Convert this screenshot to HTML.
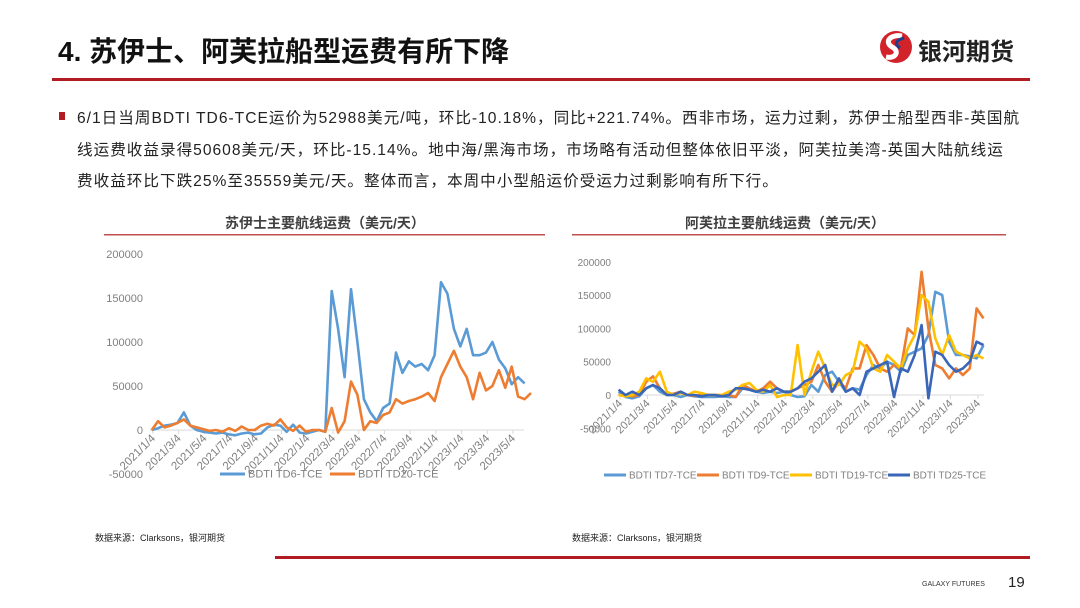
<!DOCTYPE html>
<html><head><meta charset="utf-8">
<style>
body{margin:0;background:#fff;}
#page{position:relative;width:1080px;height:608px;overflow:hidden;background:#fff;font-family:"Liberation Sans","Noto Sans CJK SC",sans-serif;}
.abs{position:absolute;}
</style></head>
<body>
<div id="page">
 <div class="abs" style="left:58px;top:30px;font-size:28px;font-weight:bold;color:#111;letter-spacing:0px;">4. 苏伊士、阿芙拉船型运费有所下降</div>
 <div class="abs" style="left:52px;top:78px;width:978px;height:3px;background:#b01c22;"></div>
 <div class="abs" style="left:876px;top:28px;width:150px;height:38px;">
  <svg width="40" height="38" style="position:absolute;left:0;top:0"><circle cx="20" cy="19" r="16" fill="#d2222a"/><path d="M26 8 C14 6 8 14 16 19 C24 23 20 31 10 29" stroke="#fff" stroke-width="5" fill="none"/><path d="M28 10 C20 12 18 16 24 20" stroke="#1e3f8f" stroke-width="3" fill="none"/></svg>
  <div style="position:absolute;left:42px;top:4px;font-size:24px;font-weight:bold;color:#222;">银河期货</div>
 </div>
 <div class="abs" style="left:59px;top:112px;width:6px;height:8px;background:#b01c22;"></div>
 <div class="abs" style="left:77px;top:103px;width:990px;font-size:15.6px;letter-spacing:1px;line-height:31.5px;color:#222;white-space:nowrap;">6/1日当周BDTI TD6-TCE运价为52988美元/吨，环比-10.18%，同比+221.74%。西非市场，运力过剩，苏伊士船型西非-英国航<br>线运费收益录得50608美元/天，环比-15.14%。地中海/黑海市场，市场略有活动但整体依旧平淡，阿芙拉美湾-英国大陆航线运<br>费收益环比下跌25%至35559美元/天。整体而言，本周中小型船运价受运力过剩影响有所下行。</div>

 <svg id="chart" class="abs" style="left:0;top:0" width="1080" height="608">
  <text x="325" y="228" text-anchor="middle" font-size="14" font-weight="bold" fill="#404040">苏伊士主要航线运费（美元/天）</text>
  <rect x="104" y="234" width="441" height="1.5" fill="#c0504d"/>
  <text x="785" y="228" text-anchor="middle" font-size="14" font-weight="bold" fill="#404040">阿芙拉主要航线运费（美元/天）</text>
  <rect x="572" y="234" width="434" height="1.5" fill="#c0504d"/>
  <g id="left"></g><g id="right"></g>
  <text x="95" y="541" font-size="9" fill="#222">数据来源：Clarksons，银河期货</text>
  <text x="572" y="541" font-size="9" fill="#222">数据来源：Clarksons，银河期货</text>
  <rect x="275" y="556" width="755" height="3" fill="#b01c22"/>
  <text x="922" y="586" font-size="7" fill="#333">GALAXY FUTURES</text>
  <text x="1008" y="587" font-size="15" fill="#222">19</text>
 </svg>
</div>
<script>
// half-monthly observations starting 2021/1/1
const yTicks=[200000,150000,100000,50000,0,-50000];
const leftXLabels=["2021/1/4","2021/3/4","2021/5/4","2021/7/4","2021/9/4","2021/11/4","2022/1/4","2022/3/4","2022/5/4","2022/7/4","2022/9/4","2022/11/4","2023/1/4","2023/3/4","2023/5/4"];
const rightXLabels=["2021/1/4","2021/3/4","2021/5/4","2021/7/4","2021/9/4","2021/11/4","2022/1/4","2022/3/4","2022/5/4","2022/7/4","2022/9/4","2022/11/4","2023/1/4","2023/3/4"];
const td6=[0,2000,5000,6000,8000,20000,5000,0,-2000,-3000,-4000,-3000,-5000,-6000,-4000,-3000,-5000,-4000,3000,6000,5000,-2000,6000,-3000,-4000,-2000,0,-2000,158000,115000,60000,160000,100000,35000,20000,10000,25000,30000,88000,65000,78000,72000,75000,68000,85000,168000,155000,115000,95000,115000,85000,85000,88000,100000,80000,70000,52000,60000,53000];
const td20=[0,10000,3000,5000,8000,12000,5000,3000,1000,-1000,0,-2000,2000,-1000,4000,0,0,5000,7000,5000,12000,3000,-1000,5000,-2000,0,0,-2000,25000,-3000,10000,55000,40000,0,10000,8000,17000,20000,35000,30000,33000,35000,38000,42000,33000,60000,75000,90000,72000,60000,35000,65000,45000,50000,68000,48000,72000,38000,35000,42000];
const td7=[5000,-3000,-5000,-2000,10000,15000,5000,0,0,-3000,0,-2000,-3000,-3000,-3000,-2000,-3000,-3000,10000,8000,5000,3000,5000,3000,5000,0,-3000,-2000,15000,5000,30000,35000,20000,5000,10000,8000,30000,45000,40000,50000,45000,35000,60000,65000,70000,90000,155000,150000,80000,60000,60000,58000,55000,75000];
const td9=[0,0,-2000,0,20000,28000,10000,0,2000,5000,0,-1000,0,0,0,0,0,-3000,15000,10000,5000,10000,20000,10000,5000,5000,10000,15000,20000,45000,20000,5000,20000,10000,40000,40000,75000,60000,40000,35000,45000,40000,100000,90000,185000,100000,45000,40000,25000,40000,30000,40000,130000,115000];
const td19=[0,-2000,0,5000,25000,20000,35000,5000,0,3000,0,5000,3000,0,0,0,5000,8000,15000,18000,8000,5000,15000,-3000,0,0,75000,0,35000,65000,40000,15000,15000,30000,35000,80000,70000,40000,35000,60000,50000,40000,70000,90000,150000,140000,85000,60000,90000,65000,60000,55000,60000,55000];
const td25=[8000,0,5000,0,10000,15000,10000,0,0,5000,0,0,-2000,0,0,-2000,0,10000,10000,8000,5000,8000,5000,10000,5000,5000,10000,20000,25000,35000,45000,5000,25000,5000,10000,0,35000,40000,45000,50000,-3000,40000,35000,60000,105000,-5000,65000,60000,45000,35000,40000,50000,80000,75000];

const NS="http://www.w3.org/2000/svg";
function mk(tag,attrs,parent){const e=document.createElementNS(NS,tag);for(const k in attrs)e.setAttribute(k,attrs[k]);parent.appendChild(e);return e;}

function drawChart(g,cfg){
  const xs=t=>cfg.x0+(t-0.1)*cfg.pxm;
  const ys=v=>cfg.yZero-v*cfg.ppu;
  yTicks.forEach(v=>{
    const t=mk('text',{x:cfg.labX,y:ys(v)+4,'text-anchor':'end','font-size':cfg.fs,fill:'#7f7f7f'},g);
    
    
    t.textContent=v;
  });
  const ax=mk('line',{x1:cfg.x0-3,x2:cfg.xEnd,y1:cfg.yZero,y2:cfg.yZero,stroke:'#d9d9d9','stroke-width':1},g);
  
  
  cfg.xLabels.forEach((lab,i)=>{
    const x=xs(2*i+0.1);
    const tk=mk('line',{x1:x,x2:x,y1:cfg.yZero,y2:cfg.yZero+4,stroke:'#d9d9d9'},g);
    
    
    const t=mk('text',{x:x+3,y:cfg.yZero+9,'text-anchor':'end','font-size':cfg.xfs,fill:'#7f7f7f',transform:`rotate(-45 ${x+3} ${cfg.yZero+9})`},g);
    
    
    t.textContent=lab;
  });
  cfg.series.forEach(s=>{
    const pts=s.data.map((v,i)=>xs(i*0.5).toFixed(1)+','+ys(v).toFixed(1)).join(' ');
    const p=mk('polyline',{points:pts,fill:'none',stroke:s.color,'stroke-width':2.6,'stroke-linejoin':'round'},g);
    
    
  });
  cfg.series.forEach(s=>{
    const l=mk('line',{x1:s.lx,x2:s.lx+cfg.legLen,y1:cfg.legY,y2:cfg.legY,stroke:s.color,'stroke-width':3},g);
    
    
    const t=mk('text',{x:s.lx+cfg.legLen+3,y:cfg.legY+3.5,'font-size':cfg.fs,fill:'#7f7f7f'},g);
    
    
    t.textContent=s.label;
  });
}
drawChart(document.getElementById('left'),{x0:153,pxm:12.857,xEnd:524,yZero:430,ppu:44/50000,labX:143,fs:11,xfs:11.5,xLabels:leftXLabels,legY:474,legLen:25,
  series:[{name:'td6',label:'BDTI TD6-TCE',color:'#5b9bd5',data:td6,lx:220},{name:'td20',label:'BDTI TD20-TCE',color:'#ed7d31',data:td20,lx:330}]});
drawChart(document.getElementById('right'),{x0:620,pxm:13.77,xEnd:984,yZero:395,ppu:33.3/50000,labX:611,fs:10,xfs:11,xLabels:rightXLabels,legY:475,legLen:22,
  series:[{name:'td7',label:'BDTI TD7-TCE',color:'#5b9bd5',data:td7,lx:604},{name:'td9',label:'BDTI TD9-TCE',color:'#ed7d31',data:td9,lx:697},{name:'td19',label:'BDTI TD19-TCE',color:'#ffc000',data:td19,lx:790},{name:'td25',label:'BDTI TD25-TCE',color:'#3a66b8',data:td25,lx:888}]});
</script>
</body></html>
